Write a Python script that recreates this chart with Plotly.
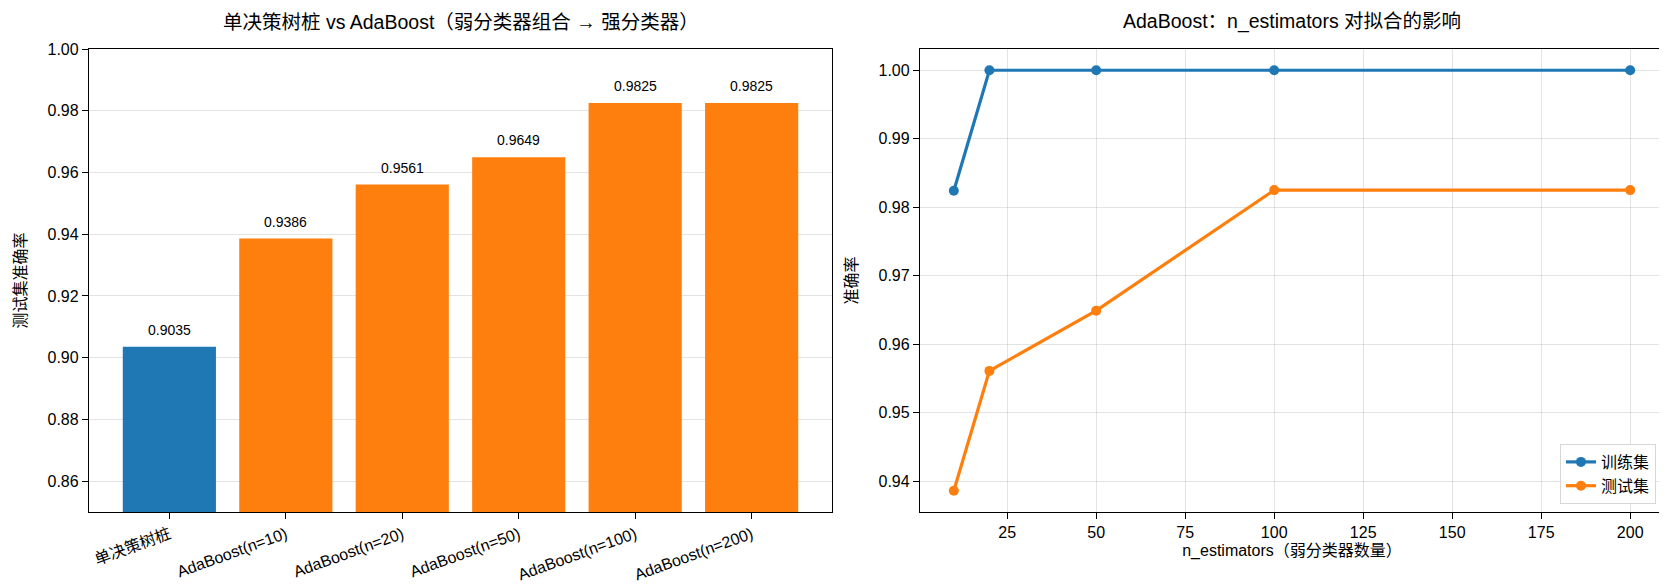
import plotly.graph_objects as go
from plotly.subplots import make_subplots

# data
models = ['单决策树桩', 'AdaBoost(n=10)', 'AdaBoost(n=20)', 'AdaBoost(n=50)',
          'AdaBoost(n=100)', 'AdaBoost(n=200)']
test_acc = [0.9035, 0.9386, 0.9561, 0.9649, 0.9825, 0.9825]
bar_colors = ['#1f77b4', '#ff7f0e', '#ff7f0e', '#ff7f0e', '#ff7f0e', '#ff7f0e']

n_estimators = [10, 20, 50, 100, 200]
train_curve = [0.9824, 1.0, 1.0, 1.0, 1.0]
test_curve = [0.9386, 0.9561, 0.9649, 0.9825, 0.9825]

FONT = 'Liberation Sans, Noto Sans CJK SC, sans-serif'
W, H = 1667, 587
# plot area in pixels (left, right, top, bottom)
PL, PR, PT, PB = 81, 1656, 41, 504
PW, PH = PR - PL, PB - PT

def xd(px):
    return (px - PL) / PW

fig = make_subplots(rows=1, cols=2)

fig.add_bar(x=models, y=test_acc, marker_color=bar_colors, marker_line_width=0,
            width=0.8, showlegend=False, row=1, col=1)
for m, v in zip(models, test_acc):
    fig.add_annotation(x=m, y=v, text=f'{v:.4f}', showarrow=False, yanchor='bottom',
                       yshift=7, font=dict(size=14, color='black'), xref='x', yref='y')

fig.add_scatter(x=n_estimators, y=train_curve, mode='lines+markers', name='训练集',
                line=dict(color='#1f77b4', width=3.2), marker=dict(size=10),
                row=1, col=2)
fig.add_scatter(x=n_estimators, y=test_curve, mode='lines+markers', name='测试集',
                line=dict(color='#ff7f0e', width=3.2), marker=dict(size=10),
                row=1, col=2)

axis_style = dict(showline=True, mirror=True, linecolor='black', linewidth=1.3,
                  ticks='outside', ticklen=6, tickcolor='black', tickwidth=1.2,
                  tickfont=dict(size=16, color='black'), zeroline=False,
                  automargin=False)
grid = dict(showgrid=True, gridcolor='rgba(176,176,176,0.35)', gridwidth=1)

fig.update_layout(
    width=W, height=H,
    margin=dict(l=PL, r=W - PR, t=PT, b=H - PB),
    paper_bgcolor='white', plot_bgcolor='white',
    font=dict(family=FONT, color='black'),
    xaxis=dict(domain=[0, xd(824)], range=[-0.69, 5.69], tickangle=-20,
               showgrid=False, **axis_style),
    yaxis=dict(domain=[0, 1], range=[0.85, 1.0], dtick=0.02, tickformat='.2f',
               title=dict(text='测试集准确率', font=dict(size=16), standoff=16),
               **grid, **axis_style),
    xaxis2=dict(domain=[xd(912), 1], range=[0.5, 209.5], dtick=25, tick0=0,
                title=dict(text='n_estimators（弱分类器数量）', font=dict(size=16), standoff=4),
                **grid, **axis_style),
    yaxis2=dict(domain=[0, 1], range=[0.9355, 1.0031], dtick=0.01, tickformat='.2f',
                title=dict(text='准确率', font=dict(size=16), standoff=16),
                **grid, **axis_style),
    legend=dict(x=1 - 8 / PW, y=8 / PH, xanchor='right', yanchor='bottom',
                bgcolor='rgba(255,255,255,0.8)', bordercolor='#d6d6d6', borderwidth=1,
                font=dict(size=16)),
)

fig.add_annotation(text='单决策树桩 vs AdaBoost（弱分类器组合 → 强分类器）', xref='paper', yref='paper',
                   x=xd((81 + 824) / 2), y=1 + 27 / PH, showarrow=False,
                   font=dict(size=19.5), xanchor='center', yanchor='middle')
fig.add_annotation(text='AdaBoost：n_estimators 对拟合的影响', xref='paper', yref='paper',
                   x=xd((912 + 1656) / 2), y=1 + 27 / PH, showarrow=False,
                   font=dict(size=19.5), xanchor='center', yanchor='middle')

fig.write_html('out.html')
